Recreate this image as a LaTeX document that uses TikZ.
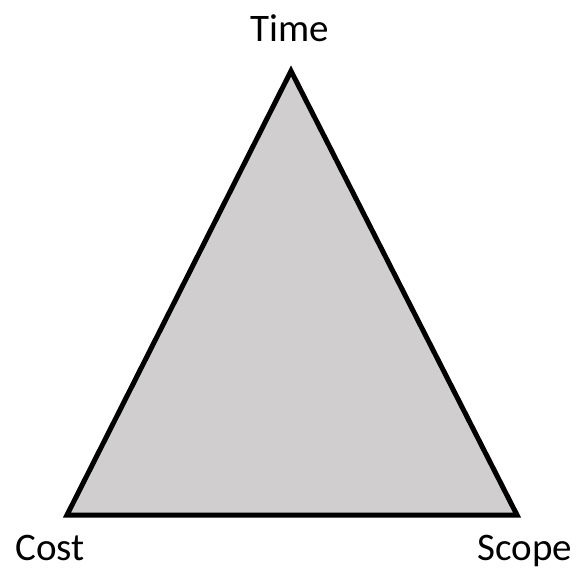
\documentclass[tikz,border=0pt]{standalone}
\usepackage{fontspec}
\setmainfont{Carlito}
\definecolor{trifill}{HTML}{D0CECE}
\begin{document}
\begin{tikzpicture}[x=1pt,y=-1pt,
  lbl/.style={font=\fontsize{39}{41}\selectfont, inner sep=0pt, anchor=base},
  tri/.style={draw=black, fill=trifill, line width=5pt, line join=miter}]
\useasboundingbox (0,0) rectangle (577,569);
\coordinate (T) at (291,71);
\coordinate (C) at (67,515);
\coordinate (S) at (517,515);
\draw[tri] (T) -- (S) -- (C) -- cycle;
\node[lbl] (time) at (290,42) {Time};
\node[lbl] (cost) at (50,560) {Cost};
\node[lbl] (scope) at (525,560) {Scope};
\end{tikzpicture}
\end{document}
